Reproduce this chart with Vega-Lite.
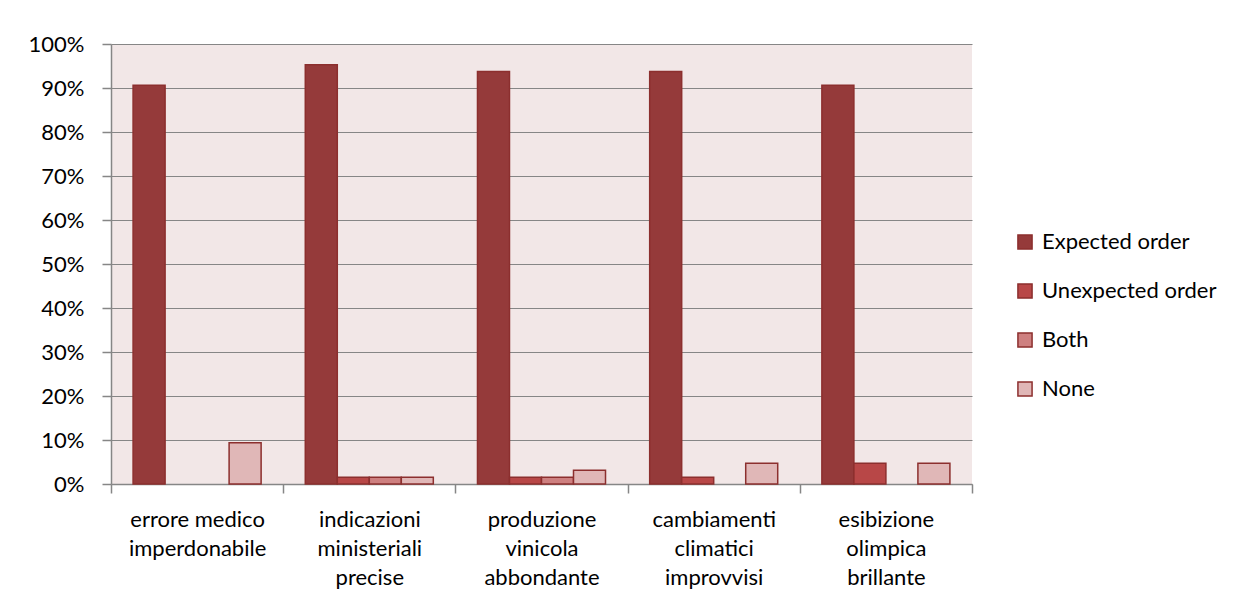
{
  "$schema": "https://vega.github.io/schema/vega-lite/v6.json",
  "width": 861,
  "height": 440,
  "autosize": {"type": "none"},
  "padding": {"left": 111, "top": 44, "right": 276, "bottom": 124},
  "background": "white",
  "config": {
    "font": "Lato",
    "view": {"fill": "#F2E7E7", "stroke": null}
  },
  "data": {
    "values": [
      {"cat": "errore medico\nimperdonabile", "resp": "Expected order", "v": 0.90625},
      {"cat": "errore medico\nimperdonabile", "resp": "None", "v": 0.09375},
      {"cat": "indicazioni\nministeriali\nprecise", "resp": "Expected order", "v": 0.953},
      {"cat": "indicazioni\nministeriali\nprecise", "resp": "Unexpected order", "v": 0.0156},
      {"cat": "indicazioni\nministeriali\nprecise", "resp": "Both", "v": 0.0156},
      {"cat": "indicazioni\nministeriali\nprecise", "resp": "None", "v": 0.0156},
      {"cat": "produzione\nvinicola\nabbondante", "resp": "Expected order", "v": 0.9375},
      {"cat": "produzione\nvinicola\nabbondante", "resp": "Unexpected order", "v": 0.0156},
      {"cat": "produzione\nvinicola\nabbondante", "resp": "Both", "v": 0.0156},
      {"cat": "produzione\nvinicola\nabbondante", "resp": "None", "v": 0.03125},
      {"cat": "cambiamenti\nclimatici\nimprovvisi", "resp": "Expected order", "v": 0.9375},
      {"cat": "cambiamenti\nclimatici\nimprovvisi", "resp": "Unexpected order", "v": 0.0156},
      {"cat": "cambiamenti\nclimatici\nimprovvisi", "resp": "None", "v": 0.0469},
      {"cat": "esibizione\nolimpica\nbrillante", "resp": "Expected order", "v": 0.90625},
      {"cat": "esibizione\nolimpica\nbrillante", "resp": "Unexpected order", "v": 0.0469},
      {"cat": "esibizione\nolimpica\nbrillante", "resp": "None", "v": 0.0469}
    ]
  },
  "mark": {"type": "bar", "stroke": "#8C2F2E", "strokeWidth": 1.5},
  "encoding": {
    "x": {
      "field": "cat",
      "type": "nominal",
      "sort": null,
      "title": null,
      "scale": {"paddingInner": 0, "paddingOuter": 0},
      "axis": {
        "labelAngle": 0,
        "labelExpr": "split(datum.label, '\\n')",
        "labelFontSize": 22,
        "labelColor": "#000000",
        "labelLineHeight": 29,
        "labelPadding": 16,
        "labelBaseline": "top",
        "tickBand": "extent",
        "tickSize": 9,
        "tickColor": "#868686",
        "domainColor": "#868686",
        "domainWidth": 1.5,
        "tickWidth": 1.5
      }
    },
    "xOffset": {
      "field": "resp",
      "type": "nominal",
      "scale": {"domain": ["Expected order", "Unexpected order", "Both", "None"], "paddingInner": 0, "paddingOuter": 0.69}
    },
    "y": {
      "field": "v",
      "type": "quantitative",
      "title": null,
      "scale": {"domain": [0, 1], "nice": false},
      "axis": {
        "format": ".0%",
        "values": [0, 0.1, 0.2, 0.3, 0.4, 0.5, 0.6, 0.7, 0.8, 0.9, 1],
        "labelFontSize": 22,
        "labelColor": "#000000",
        "labelPadding": 18,
        "tickSize": 9,
        "tickColor": "#868686",
        "domainColor": "#868686",
        "domainWidth": 1.5,
        "gridColor": "#868686",
        "gridWidth": 1.2,
        "tickWidth": 1.5
      }
    },
    "color": {
      "field": "resp",
      "type": "nominal",
      "title": null,
      "scale": {
        "domain": ["Expected order", "Unexpected order", "Both", "None"],
        "range": ["#953A3A", "#B84747", "#CE8080", "#E0B7B7"]
      },
      "legend": {
        "orient": "none",
        "legendX": 903,
        "legendY": 187,
        "symbolType": "square",
        "symbolSize": 200,
        "symbolStrokeColor": "#8C2F2E",
        "symbolStrokeWidth": 1.5,
        "labelFontSize": 22,
        "labelColor": "#000000",
        "labelLimit": 300,
        "rowPadding": 27,
        "labelOffset": 6
      }
    }
  }
}
